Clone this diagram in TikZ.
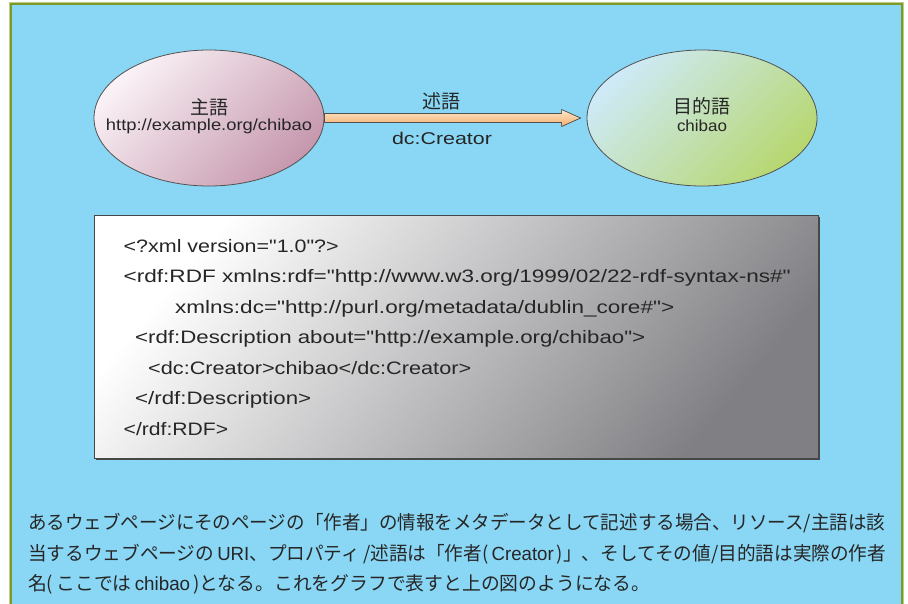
\documentclass[tikz,border=0pt]{standalone}
\usepackage{fontspec}
\usepackage{graphicx}
\usetikzlibrary{calc,shapes.geometric}
\setmainfont{Liberation Sans}[Ligatures=TeXOff]
\newfontfamily\jpfont{Noto Sans CJK JP}
\newfontfamily\latfont{Liberation Sans}[Ligatures=TeXOff]
\definecolor{bgblue}{RGB}{138,215,245}
\definecolor{olive}{RGB}{125,154,40}
\definecolor{olivelight}{RGB}{190,205,130}
\definecolor{ink}{RGB}{38,38,38}
\definecolor{pinkA}{RGB}{250,242,246}
\definecolor{pinkB}{RGB}{198,152,174}
\definecolor{greenA}{RGB}{206,234,248}
\definecolor{greenB}{RGB}{183,215,112}
\definecolor{peachA}{RGB}{253,232,205}
\definecolor{peachB}{RGB}{244,172,104}
\definecolor{boxgray}{RGB}{128,128,132}
\definecolor{boxmid}{RGB}{214,214,217}
\newcommand{\fitw}[2]{\resizebox{#1pt}{\height}{#2}}
\tikzset{
  bubble/.style={ellipse, draw=ink!80, line width=0.8pt, minimum width=230pt, minimum height=136pt, inner sep=0pt},
  lbl/.style={text=ink, inner sep=0pt},
  codeline/.style={text=ink, inner sep=0pt, anchor=base west, font=\fontsize{18}{21}\selectfont},
  noteline/.style={text=ink, inner sep=0pt, anchor=base west, font=\fontsize{19}{23}\jpfont},
}
\begin{document}
\begin{tikzpicture}[x=1pt,y=-1pt]
\useasboundingbox (0,0) rectangle (908,603);
\fill[white] (0,0) rectangle (908,603);
% panel
\fill[bgblue] (11,4) rectangle (902,610);
\draw[olivelight, line width=1pt] (9.5,610) -- (9.5,2.5) -- (903.5,2.5) -- (903.5,610);
\draw[olive, line width=2pt] (11,610) -- (11,4) -- (902,4) -- (902,610);

% ellipses
\node[bubble, shade, shading=axis, top color=pinkA, bottom color=pinkB, shading angle=45] (subj) at (209,118) {};
\node[bubble, shade, shading=axis, top color=greenA, bottom color=greenB, shading angle=45] (obj) at (702,118) {};

\node[lbl, font=\fontsize{19}{22}\jpfont] (subjT) at ($(subj.center)+(0,-11)$) {主語};
\node[lbl, font=\fontsize{16}{19}\selectfont] (subjU) at ($(subj.center)+(0,8)$) {\fitw{206}{http://example.org/chibao}};
\node[lbl, font=\fontsize{19}{22}\jpfont] (objT) at ($(obj.center)+(0,-12)$) {目的語};
\node[lbl, font=\fontsize{16}{19}\selectfont] (objU) at ($(obj.center)+(0,8)$) {\fitw{50}{chibao}};

% arrow
\coordinate (tip) at ($(obj.west)+(-6,0)$);
\filldraw[draw=ink!80, line width=0.7pt, shading=axis, top color=peachA, bottom color=peachB]
  ($(subj.east)+(0,-4.5)$) -- ($(tip)+(-19,-4.5)$) -- ($(tip)+(-19,-8.5)$) -- (tip)
  -- ($(tip)+(-19,8.5)$) -- ($(tip)+(-19,4.5)$) -- ($(subj.east)+(0,4.5)$) -- cycle;
\node[lbl, font=\fontsize{19}{22}\jpfont] (pred) at (441,101) {述語};
\node[lbl, font=\fontsize{17}{20}\selectfont] (predU) at (442,138) {\fitw{100}{dc:Creator}};

% code box
\fill[ink!85] (96,217) rectangle (820,460);
\shade[shading=axis, top color=white, middle color=boxmid, bottom color=boxgray, shading angle=50] (94,215) rectangle (818,458);
\draw[ink!85, line width=0.8pt] (94,215) rectangle (818,458);

\node[codeline] (c1) at (123.5,252) {\fitw{215}{<?xml version="1.0"?>}};
\node[codeline] (c2) at (123.5,282.5) {\fitw{667}{<rdf:RDF xmlns:rdf="http://www.w3.org/1999/02/22-rdf-syntax-ns\#"}};
\node[codeline] (c3) at (175,313) {\fitw{499}{xmlns:dc="http://purl.org/metadata/dublin\_core\#">}};
\node[codeline] (c4) at (135,343.5) {\fitw{510}{<rdf:Description about="http://example.org/chibao">}};
\node[codeline] (c5) at (148,374) {\fitw{323}{<dc:Creator>chibao</dc:Creator>}};
\node[codeline] (c6) at (135,404.5) {\fitw{176}{</rdf:Description>}};
\node[codeline] (c7) at (123.5,435) {\fitw{104.5}{</rdf:RDF>}};

% note
\node[noteline] (n1) at (28,529) {\fitw{857}{あるウェブページにそのページの「作者」の情報をメタデータとして記述する場合、リソース/主語は該}};
\node[noteline] (n2) at (28,560) {\fitw{858}{当するウェブページの\,{\latfont URI}、プロパティ\,/述語は「作者(\,{\latfont Creator}\,)」、そしてその値/目的語は実際の作者}};
\node[noteline] (n3) at (28,590) {\fitw{622}{名(\,ここでは\,{\latfont chibao}\,)となる。これをグラフで表すと上の図のようになる。}};
\end{tikzpicture}
\end{document}
